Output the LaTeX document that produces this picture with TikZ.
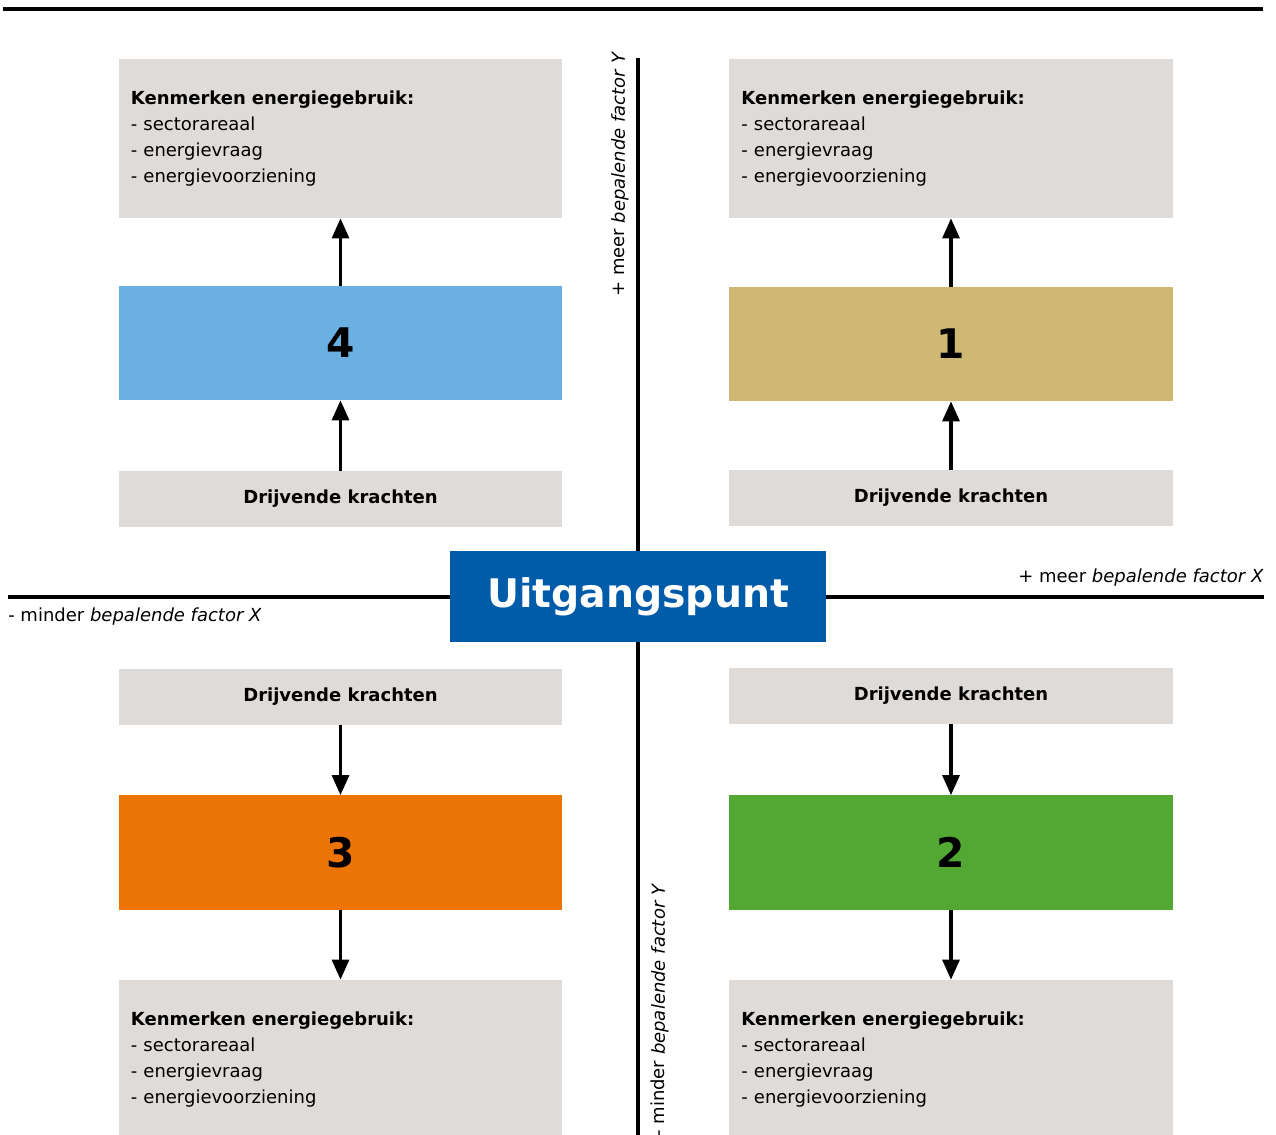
\documentclass[tikz,border=0pt]{standalone}
\usepackage{fontspec}
\setmainfont{DejaVu Sans}
\usetikzlibrary{arrows.meta}
\definecolor{kengray}{HTML}{DFDBD8}
\definecolor{scenblue}{HTML}{6AB0E1}
\definecolor{scengold}{HTML}{CFB873}
\definecolor{scenorange}{HTML}{EC7405}
\definecolor{scengreen}{HTML}{52A833}
\definecolor{startblue}{HTML}{005CA9}
\begin{document}
\begin{tikzpicture}[x=0.025cm, y=-0.025cm,%
% common options for the gray info boxes:
kenbox/.style = {fill=kengray, text width=10.475cm, inner xsep=0.3cm,
            minimum height=3.975cm, align=left, font=\fontsize{12.8}{18.5}\selectfont},
drivebox/.style = {fill=kengray, minimum width=11.075cm, minimum height=1.4cm,
            inner sep=0, font=\fontsize{12.8}{14}\selectfont\bfseries},
% common options for the numbered scenarios:
scenario/.style = {minimum width=11.075cm, minimum height=2.85cm, inner sep=0,
            font=\fontsize{29}{31}\selectfont\bfseries},
axislabel/.style = {inner sep=0, font=\fontsize{12.8}{14}\selectfont},
flow/.style = {line width=2.5pt, -{Triangle[width=0.42cm,length=0.5cm]}}]
\useasboundingbox (0,0) rectangle (1276,1135);
\draw[line width=3.4pt] (3,9) -- (1263,9);
% axes
\coordinate (xmin) at (8,597);
\coordinate (xmax) at (1264,597);
\coordinate (ymax) at (638,58);
\coordinate (ymin) at (638,1140);
\draw[line width=2.7pt] (xmin) -- (xmax);
\draw[line width=2.7pt] (ymax) -- (ymin);
\node[axislabel,anchor=west] (lxmin) at (8,617) {- minder \textit{bepalende factor X}};
\node[axislabel,anchor=east] (lxmax) at (1264,578) {+ meer \textit{bepalende factor X}};
\node[axislabel,anchor=west,rotate=90] (lymax) at (620,297) {+ meer \textit{bepalende factor Y}};
\node[axislabel,anchor=west,rotate=90] (lymin) at (660,1137) {- minder \textit{bepalende factor Y}};
\node[fill=startblue,text=white,minimum width=9.4cm,minimum height=2.275cm,inner sep=0,
      font=\fontsize{28}{30}\selectfont\bfseries] (start) at (638,596.5) {Uitgangspunt};
% quadrant 4
\node[kenbox] (K4) at (340.5,138.5) {\textbf{Kenmerken energiegebruik:}\\- sectorareaal\\- energievraag\\- energievoorziening};
\node[scenario,fill=scenblue] (N4) at (340.5,343) {4};
\node[drivebox] (D4) at (340.5,499) {Drijvende krachten};
% quadrant 1
\node[kenbox] (K1) at (951,138.5) {\textbf{Kenmerken energiegebruik:}\\- sectorareaal\\- energievraag\\- energievoorziening};
\node[scenario,fill=scengold] (N1) at (951,344) {1};
\node[drivebox] (D1) at (951,498) {Drijvende krachten};
% quadrant 3
\node[drivebox] (D3) at (340.5,697) {Drijvende krachten};
\node[scenario,fill=scenorange] (N3) at (340.5,852.5) {3};
\node[kenbox] (K3) at (340.5,1059.5) {\textbf{Kenmerken energiegebruik:}\\- sectorareaal\\- energievraag\\- energievoorziening};
% quadrant 2
\node[drivebox] (D2) at (951,696) {Drijvende krachten};
\node[scenario,fill=scengreen] (N2) at (951,852.5) {2};
\node[kenbox] (K2) at (951,1059.5) {\textbf{Kenmerken energiegebruik:}\\- sectorareaal\\- energievraag\\- energievoorziening};
\draw[flow] (D4.north) to (N4.south);
\draw[flow] (N4.north) to (K4.south);
\draw[flow] (D1.north) to (N1.south);
\draw[flow] (N1.north) to (K1.south);
\draw[flow] (D3.south) to (N3.north);
\draw[flow] (N3.south) to (K3.north);
\draw[flow] (D2.south) to (N2.north);
\draw[flow] (N2.south) to (K2.north);
\end{tikzpicture}
\end{document}
